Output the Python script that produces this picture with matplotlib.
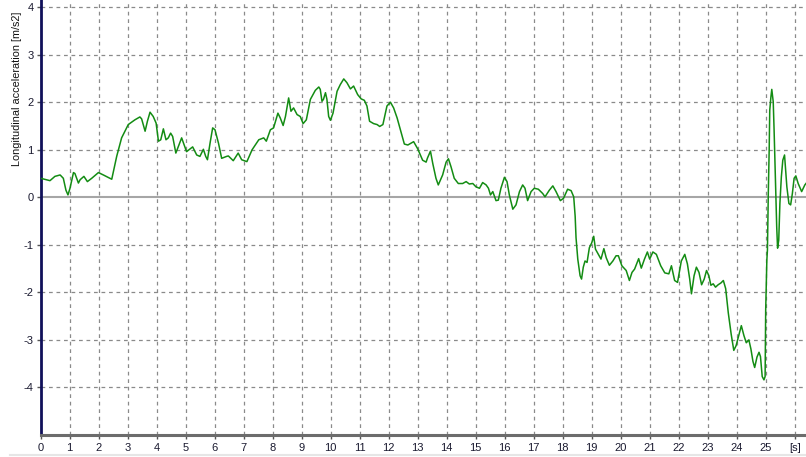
import matplotlib
matplotlib.use("Agg")
import matplotlib.pyplot as plt
from matplotlib.lines import Line2D

plt.rcParams['font.family'] = ['Liberation Sans', 'DejaVu Sans']

# time [s]
time_s = [0.0, 0.32, 0.49, 0.67, 0.78, 0.87, 0.94, 1.01, 1.13, 1.18, 1.30, 1.36, 1.49, 1.61, 1.76,
          1.99, 2.16, 2.45, 2.62, 2.79, 3.02, 3.25, 3.42, 3.48, 3.60, 3.68, 3.77, 3.88, 3.98, 4.06,
          4.14, 4.23, 4.32, 4.40, 4.48, 4.55, 4.66, 4.86, 5.03, 5.24, 5.38, 5.49, 5.61, 5.69, 5.75,
          5.84, 5.93, 6.01, 6.13, 6.24, 6.41, 6.47, 6.64, 6.81, 6.93, 7.11, 7.29, 7.52, 7.69, 7.78,
          7.92, 8.03, 8.18, 8.26, 8.36, 8.44, 8.55, 8.63, 8.72, 8.84, 8.95, 9.05, 9.16, 9.30, 9.47,
          9.59, 9.64, 9.70, 9.75, 9.82, 9.87, 9.93, 9.99, 10.08, 10.22, 10.33, 10.45, 10.56, 10.68,
          10.79, 10.93, 11.05, 11.16, 11.25, 11.34, 11.48, 11.60, 11.69, 11.80, 11.94, 12.06, 12.17,
          12.29, 12.43, 12.54, 12.66, 12.86, 13.0, 13.17, 13.29, 13.34, 13.44, 13.52, 13.63, 13.71,
          13.86, 13.98, 14.06, 14.15, 14.26, 14.40, 14.55, 14.67, 14.78, 14.90, 15.01, 15.13, 15.24,
          15.36, 15.44, 15.51, 15.59, 15.70, 15.78, 15.87, 15.99, 16.08, 16.16, 16.28, 16.39, 16.51,
          16.62, 16.70, 16.79, 16.91, 17.02, 17.16, 17.31, 17.39, 17.54, 17.66, 17.77, 17.92, 18.03,
          18.17, 18.29, 18.38, 18.43, 18.46, 18.52, 18.60, 18.65, 18.71, 18.77, 18.84, 18.92, 19.0,
          19.07, 19.13, 19.23, 19.32, 19.42, 19.50, 19.61, 19.73, 19.84, 19.92, 20.04, 20.19, 20.30,
          20.39, 20.48, 20.62, 20.71, 20.82, 20.92, 21.0, 21.11, 21.23, 21.38, 21.52, 21.66, 21.75,
          21.86, 21.96, 22.09, 22.21, 22.30, 22.38, 22.44, 22.53, 22.61, 22.70, 22.79, 22.88, 22.96,
          23.04, 23.11, 23.19, 23.27, 23.36, 23.46, 23.54, 23.62, 23.71, 23.81, 23.90, 23.98, 24.07,
          24.16, 24.25, 24.33, 24.42, 24.49, 24.56, 24.62, 24.70, 24.77, 24.82, 24.88, 24.94, 24.98,
          25.0, 25.04, 25.06, 25.09, 25.12, 25.14, 25.18, 25.21, 25.26, 25.29, 25.33, 25.38, 25.41,
          25.45, 25.49, 25.54, 25.59, 25.65, 25.68, 25.73, 25.80, 25.86, 25.92, 25.98, 26.04, 26.12,
          26.24, 26.35, 26.44, 26.51]

# longitudinal acceleration [m/s2]
accel = [0.40, 0.35, 0.44, 0.47, 0.40, 0.15, 0.05, 0.19, 0.52, 0.50, 0.30, 0.37, 0.44, 0.33, 0.40,
         0.52, 0.47, 0.38, 0.86, 1.25, 1.53, 1.63, 1.69, 1.65, 1.39, 1.60, 1.79, 1.70, 1.56, 1.18,
         1.21, 1.44, 1.21, 1.25, 1.35, 1.28, 0.93, 1.25, 0.96, 1.06, 0.89, 0.86, 1.01, 0.86, 0.79,
         1.14, 1.46, 1.42, 1.14, 0.82, 0.86, 0.87, 0.77, 0.93, 0.79, 0.75, 1.00, 1.21, 1.25, 1.18,
         1.42, 1.46, 1.77, 1.67, 1.51, 1.70, 2.09, 1.81, 1.88, 1.74, 1.70, 1.55, 1.63, 2.06, 2.25,
         2.32, 2.27, 2.02, 2.06, 2.20, 2.06, 1.70, 1.62, 1.77, 2.23, 2.37, 2.49, 2.41, 2.28,
         2.34, 2.16, 2.07, 2.04, 1.92, 1.60, 1.55, 1.53, 1.49, 1.53, 1.92, 2.00, 1.88,
         1.67, 1.36, 1.12, 1.10, 1.17, 1.02, 0.78, 0.74, 0.83, 0.97, 0.71, 0.40, 0.26,
         0.47, 0.74, 0.81, 0.64, 0.40, 0.29, 0.29, 0.33, 0.28, 0.29, 0.22, 0.19, 0.31,
         0.26, 0.19, 0.05, 0.12, -0.07, -0.06, 0.19, 0.42, 0.33, 0.05, -0.25, -0.16, 0.12,
         0.26, 0.19, -0.07, 0.12, 0.19, 0.17, 0.08, 0.01, 0.15, 0.24, 0.12, -0.07, -0.02,
         0.17, 0.14, 0.01, -0.40, -0.85, -1.30, -1.65, -1.72, -1.47, -1.34, -1.37, -1.06, -0.96,
         -0.82, -1.09, -1.20, -1.30, -1.08, -1.27, -1.43, -1.34, -1.23, -1.23, -1.44, -1.54, -1.75,
         -1.58, -1.51, -1.29, -1.49, -1.30, -1.15, -1.30, -1.15, -1.20, -1.44, -1.59, -1.61, -1.44,
         -1.75, -1.79, -1.34, -1.20, -1.40, -1.72, -2.03, -1.65, -1.47, -1.58, -1.84, -1.72, -1.54,
         -1.65, -1.85, -1.82, -1.89, -1.84, -1.80, -1.75, -1.92, -2.43, -2.88, -3.22, -3.12, -2.91,
         -2.70, -2.91, -3.06, -3.00, -3.19, -3.45, -3.58, -3.36, -3.26, -3.35, -3.77, -3.84, -3.77,
         -2.37, -1.32, -1.11, 0.08, 0.99, 1.83, 2.11, 2.27, 2.01, 1.41, 0.50, -0.62, -1.07,
         -0.90, -0.13, 0.43, 0.78, 0.89, 0.64, 0.22, -0.13, -0.16, 0.08, 0.40, 0.45, 0.29,
         0.12, 0.26, 0.33, 0.29]

y_ticks = [-4, -3, -2, -1, 0, 1, 2, 3, 4]
x_ticks = list(range(0, 27))
x_tick_labels = [str(i) for i in range(0, 26)] + ['[s]']
y_label = 'Longitudinal acceleration [m/s2]'

W, H = 806, 457
fig = plt.figure(figsize=(W / 100, H / 100), dpi=100)
fig.patch.set_facecolor('white')
ax = fig.add_axes([40.7 / W, 22 / H, 1 - 40.7 / W, 435 / H])

ax.set_xlim(0, 26.39)
ax.set_ylim(-5.0, 4.15)

# grid
for xv in x_ticks[1:]:
    ax.axvline(xv, color='#8a8a8a', lw=0.9, ls=(0, (3, 3)), zorder=1)
for yv in y_ticks:
    if yv != 0:
        ax.axhline(yv, color='#8a8a8a', lw=0.9, ls=(0, (3, 3)), zorder=1)
ax.axhline(0, color='#a6a6a6', lw=1.5, zorder=1)

ax.plot(time_s, accel, color='#138c13', lw=1.1, zorder=3)

for s in ['top', 'right']:
    ax.spines[s].set_visible(False)
ax.spines['left'].set_color('#10105a')
ax.spines['left'].set_linewidth(2.0)
ax.spines['bottom'].set_color('#6c6c6c')
ax.spines['bottom'].set_linewidth(2.2)

ax.set_yticks(y_ticks)
ax.set_yticklabels([str(v) for v in y_ticks])
ax.set_xticks(x_ticks)
ax.set_xticklabels(x_tick_labels)
ax.tick_params(axis='both', direction='out', length=3, width=1, colors='#555555',
               labelsize=8, labelcolor='#1a1a30')
ax.tick_params(axis='y', pad=2)
ax.tick_params(axis='x', pad=3)

fig.text(17 / W, 1 - 12 / H, y_label, rotation=90, ha='center', va='top',
         fontsize=7.8, color='#111111')

fig.add_artist(Line2D([10 / W, 1], [2 / H, 2 / H], color='#e6e6e6', lw=1.5,
                      transform=fig.transFigure))

fig.savefig('out.png', dpi=100, facecolor='white')
